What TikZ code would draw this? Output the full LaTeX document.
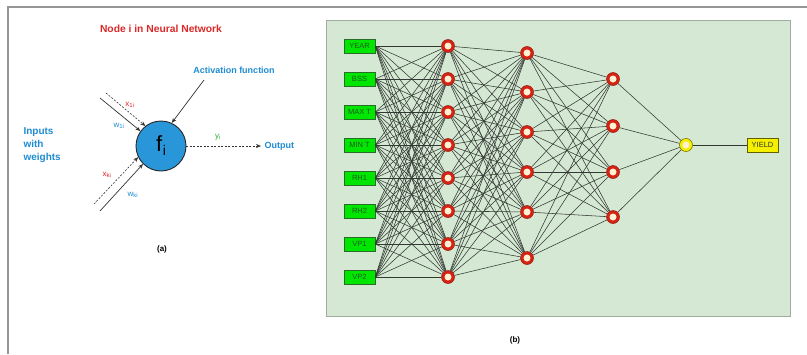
\documentclass[tikz,border=0pt]{standalone}
\usepackage{fontspec}
\setmainfont{Liberation Sans}
\usetikzlibrary{arrows.meta}
\definecolor{panel}{RGB}{213,232,212}
\definecolor{panelborder}{RGB}{160,172,160}
\definecolor{boxgreen}{RGB}{0,230,0}
\definecolor{boxborder}{RGB}{40,110,40}
\definecolor{nred}{RGB}{215,35,20}
\definecolor{ninner}{RGB}{255,240,210}
\definecolor{nyellow}{RGB}{245,240,0}
\definecolor{edgecol}{RGB}{50,56,50}
\definecolor{titlered}{RGB}{220,40,40}
\definecolor{lblue}{RGB}{30,140,210}
\definecolor{fblue}{RGB}{42,150,218}
\definecolor{ygreen}{RGB}{40,170,40}
\definecolor{framegray}{RGB}{150,150,150}
\tikzset{
  inbox/.style={draw=boxborder, fill=boxgreen, line width=0.6pt, minimum width=31pt, minimum height=14pt, inner sep=0pt, font=\fontsize{7.5}{8}\selectfont, text=boxborder!80!black},
  neuron/.style={circle, minimum size=13pt, inner sep=0pt, fill=nred, draw=nred!70!black, line width=0.5pt,
     path picture={\fill[ninner] (path picture bounding box.center) circle (3.5pt);}},
  outneuron/.style={circle, minimum size=13pt, inner sep=0pt, fill=nyellow, draw=nyellow!50!black, line width=0.6pt,
     path picture={\fill[ninner] (path picture bounding box.center) circle (3.5pt);}},
  yieldbox/.style={draw=nyellow!40!black, fill=nyellow, line width=0.6pt, minimum width=31pt, minimum height=14pt, inner sep=0pt, font=\fontsize{7.5}{8}\selectfont, text=black!80},
  netedge/.style={draw=edgecol, line width=0.55pt},
  solidarrow/.style={draw=black!80, line width=0.7pt, -{Stealth[length=5pt,width=4pt]}},
  dasharrow/.style={draw=black!80, line width=0.6pt, dash pattern=on 2pt off 1.5pt, -{Stealth[length=5pt,width=4pt]}},
  lbl/.style={font=\bfseries\fontsize{9}{10}\selectfont, text=lblue},
  sub/.style={font=\fontsize{8}{9}\selectfont, inner sep=0pt},
}
\begin{document}
\begin{tikzpicture}[x=1pt,y=-1pt]
\useasboundingbox (0,0) rectangle (807,354);
% outer frame
\draw[framegray, line width=1.2pt] (8,354) -- (8,7) -- (807,7);

% ---------- part (a) ----------
\node[font=\bfseries\fontsize{10.3}{11}\selectfont, text=titlered] (title) at (161,29) {Node i in Neural Network};
\node[circle, minimum size=50pt, inner sep=0pt, fill=fblue, draw=black!85, line width=0.9pt, font=\fontsize{22}{24}\selectfont] (f) at (161,146) {f\kern0.5pt\raisebox{-4pt}{\fontsize{14}{15}\selectfont i}};
\node[lbl] (act) at (234,70) {Activation function};
\node[lbl, font=\bfseries\fontsize{10}{13}\selectfont, align=left, anchor=west] (inputs) at (20,145) {Inputs\\with\\weights};
\node[lbl, anchor=west] (outlbl) at (261,146) {Output};

\coordinate (s1) at (100,98);
\coordinate (d1) at (106,93);
\coordinate (d2) at (94,204);
\coordinate (s2) at (100,211);
\coordinate (a1) at (204,80);

\draw[solidarrow] (s1) -- (f.144);
\draw[dasharrow] (d1) -- (f.128);
\draw[dasharrow] (d2) -- (f.206);
\draw[solidarrow] (s2) -- (f.225);
\draw[solidarrow] (a1) -- (f.65);
\draw[dasharrow] (f.east) -- (outlbl.west);

\node[sub, text=titlered] (x1) at (130,105) {x\textsubscript{1i}};
\node[sub, text=lblue] (w1) at (119,126) {w\textsubscript{1i}};
\node[sub, text=titlered] (xk) at (107,175) {x\textsubscript{ki}};
\node[sub, text=lblue] (wk) at (133,195) {w\textsubscript{ki}};
\node[sub, text=ygreen] (yi) at (218,137) {y\textsubscript{i}};
\node[font=\bfseries\fontsize{8}{9}\selectfont] (capa) at (162,249) {(a)};

% ---------- part (b) ----------
\node[draw=panelborder, fill=panel, line width=0.8pt, minimum width=464pt, minimum height=296pt, inner sep=0pt] (panelbox) at (558,168) {};

\foreach \n/\t/\y in {1/YEAR/46, 2/BSS/79, 3/MAX T/112, 4/MIN T/145, 5/RH1/178, 6/RH2/211, 7/VP1/244, 8/VP2/277}
  \node[inbox] (i\n) at (359.5,\y) {\t};
\foreach \n/\y in {1/46, 2/79, 3/112, 4/145, 5/178, 6/211, 7/244, 8/277}
  \node[neuron] (h\n) at (448,\y) {};
\foreach \n/\y in {1/53, 2/92, 3/132, 4/172, 5/212, 6/258}
  \node[neuron] (g\n) at (527,\y) {};
\foreach \n/\y in {1/79, 2/126, 3/172, 4/217}
  \node[neuron] (k\n) at (613,\y) {};
\node[outneuron] (o) at (686,145) {};
\node[yieldbox] (yield) at (762.5,145) {YIELD};

\foreach \a in {1,...,8}
  \foreach \b in {1,...,8}
    \draw[netedge] (i\a.east) -- (h\b);
\foreach \a in {1,...,8}
  \foreach \b in {1,...,6}
    \draw[netedge] (h\a) -- (g\b);
\foreach \a in {1,...,6}
  \foreach \b in {1,...,4}
    \draw[netedge] (g\a) -- (k\b);
\foreach \a in {1,...,4}
  \draw[netedge] (k\a) -- (o);
\draw[netedge] (o) -- (yield);

\node[font=\bfseries\fontsize{8}{9}\selectfont] (capb) at (515,340) {(b)};
\end{tikzpicture}
\end{document}
